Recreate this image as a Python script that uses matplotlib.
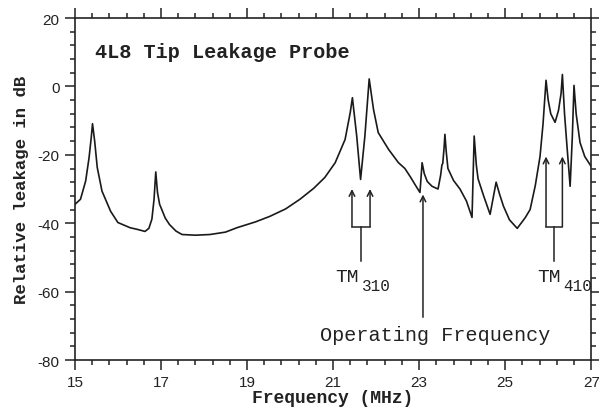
import matplotlib
matplotlib.use('Agg')
import matplotlib.pyplot as plt
import numpy as np

# leakage curve (MHz, dB)
freq = [15.00, 15.13, 15.25, 15.33, 15.38, 15.41, 15.46, 15.52, 15.63, 15.83,
        16.00, 16.28, 16.45, 16.63, 16.72, 16.79, 16.84, 16.88, 16.92, 16.97,
        17.02, 17.10, 17.20, 17.35, 17.49, 17.80, 18.14, 18.50, 18.77, 19.20,
        19.53, 19.90, 20.23, 20.55, 20.81, 21.05, 21.28, 21.40, 21.45, 21.55,
        21.64, 21.74, 21.84, 21.94, 22.05, 22.29, 22.52, 22.67, 22.80, 22.92,
        23.02, 23.07, 23.12, 23.19, 23.30, 23.44, 23.50, 23.53, 23.55, 23.58,
        23.60, 23.63, 23.67, 23.80, 23.95, 24.10, 24.23, 24.28, 24.33, 24.37,
        24.50, 24.65, 24.79, 24.87, 24.96, 25.10, 25.28, 25.40, 25.47, 25.58,
        25.70, 25.81, 25.88, 25.95, 26.00, 26.06, 26.16, 26.24, 26.30, 26.33,
        26.38, 26.44, 26.51, 26.56, 26.60, 26.65, 26.74, 26.85, 27.00]
leak_db = [-34.5, -33.0, -27.7, -20.8, -15.0, -10.9, -16.0, -23.7, -30.6, -36.5,
           -39.8, -41.3, -41.8, -42.4, -41.5, -38.8, -33.0, -25.0, -31.0, -34.5,
           -36.0, -38.5, -40.4, -42.3, -43.3, -43.5, -43.3, -42.6, -41.3, -39.6,
           -38.0, -35.8, -33.0, -29.8, -26.6, -22.3, -15.5, -7.6, -3.3, -14.5,
           -27.2, -14.5, 2.2, -6.7, -13.5, -18.4, -22.3, -24.0, -26.5, -29.0,
           -31.0, -22.3, -25.5, -27.8, -29.2, -30.0, -26.0, -23.0, -22.5, -18.0,
           -14.0, -19.0, -24.0, -27.5, -30.0, -33.5, -38.3, -14.5, -23.0, -27.0,
           -32.0, -37.4, -28.0, -31.5, -35.0, -39.0, -41.5, -39.5, -38.3, -36.0,
           -29.0, -20.5, -11.0, 1.8, -4.0, -8.0, -10.5, -7.0, -2.0, 3.5,
           -8.0, -18.0, -29.2, -15.0, 0.3, -8.0, -16.4, -20.5, -23.4]

# annotation arrows
tm310_x = [21.44, 21.86]
tm310_tip = -30
tm410_x = [25.95, 26.33]
tm410_tip = -20.5
bracket_y = -41
stem_y = -51
op_freq_x = 23.09
op_freq_tip = -31.6
op_freq_base = -67.5

x_ticks = [15, 17, 19, 21, 23, 25, 27]
y_ticks = [20, 0, -20, -40, -60, -80]

mono = 'Liberation Mono'
ink = '#222222'

fig = plt.figure(figsize=(5.99, 4.14), dpi=100)
ax = fig.add_axes([0.125, 0.128, 0.862, 0.826])

ax.plot(freq, leak_db, color='#1a1a1a', lw=1.2)

ax.set_xlim(15, 27)
ax.set_ylim(-80, 20)
ax.set_xticks(x_ticks)
ax.set_xticks(np.arange(15, 27.01, 0.4), minor=True)
ax.set_yticks(y_ticks)
ax.set_yticks(np.arange(-80, 20.1, 4), minor=True)
ax.set_xticklabels([str(t) for t in x_ticks], family='Liberation Sans',
                   fontsize=11, color=ink)
ax.set_yticklabels([str(t) for t in y_ticks], family='Liberation Sans',
                   fontsize=11, color=ink)
ax.tick_params(which='both', direction='out', top=True, right=True,
               labeltop=False, labelright=False, width=1.1, color=ink)
ax.tick_params(which='major', length=7, pad=4)
ax.tick_params(which='minor', length=3.5)
for sp in ax.spines.values():
    sp.set_linewidth(1.2)
    sp.set_color(ink)

ax.set_xlabel('Frequency (MHz)', family=mono, fontweight='bold', fontsize=13,
              labelpad=0, color=ink)
ax.set_ylabel('Relative leakage in dB', family=mono, fontweight='bold',
              fontsize=12.5, labelpad=6, color=ink)

ax.text(15.47, 10.2, '4L8 Tip Leakage Probe', family=mono, fontsize=14.5,
        fontweight='bold', va='center', ha='left', color=ink)

arrow = dict(arrowstyle='->', lw=1.1, color=ink, mutation_scale=10,
             shrinkA=0, shrinkB=0)

# TM310 bracket
for x in tm310_x:
    ax.annotate('', xy=(x, tm310_tip), xytext=(x, bracket_y), arrowprops=arrow)
ax.plot(tm310_x, [bracket_y, bracket_y], color=ink, lw=1.1)
mid310 = sum(tm310_x) / 2
ax.plot([mid310, mid310], [bracket_y, stem_y], color=ink, lw=1.1)
ax.text(21.05, -55.6, 'TM', family=mono, fontsize=14, va='center', ha='left',
        color=ink)
ax.text(21.67, -58.3, '310', family=mono, fontsize=11.5, va='center',
        ha='left', color=ink)

# TM410 bracket
for x in tm410_x:
    ax.annotate('', xy=(x, tm410_tip), xytext=(x, bracket_y), arrowprops=arrow)
ax.plot(tm410_x, [bracket_y, bracket_y], color=ink, lw=1.1)
mid410 = sum(tm410_x) / 2
ax.plot([mid410, mid410], [bracket_y, stem_y], color=ink, lw=1.1)
ax.text(25.74, -55.6, 'TM', family=mono, fontsize=14, va='center', ha='left',
        color=ink)
ax.text(26.35, -58.3, '410', family=mono, fontsize=11.5, va='center',
        ha='left', color=ink)

# operating frequency
ax.annotate('', xy=(op_freq_x, op_freq_tip), xytext=(op_freq_x, op_freq_base),
            arrowprops=arrow)
ax.text(20.70, -72.5, 'Operating Frequency', family=mono, fontsize=14.5,
        va='center', ha='left', color=ink)

fig.savefig('out.png', dpi=100)
